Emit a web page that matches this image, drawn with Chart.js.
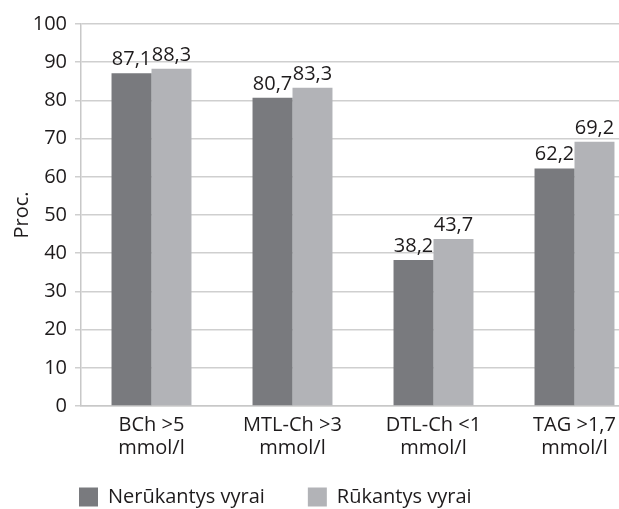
<!DOCTYPE html>
<html>
<head>
<meta charset="utf-8">
<script src="https://cdn.jsdelivr.net/npm/chart.js@4/dist/chart.umd.min.js"></script>
<style>
  html, body { margin: 0; padding: 0; background: #fff; overflow: hidden; }
  #wrap { position: absolute; left: 0; top: 0; }
</style>
</head>
<body>
<div id="wrap"><canvas id="chart" width="655" height="541"></canvas></div>
<script>
// Duomenys
const kategorijos = [
  ['BCh >5', 'mmol/l'],
  ['MTL-Ch >3', 'mmol/l'],
  ['DTL-Ch <1', 'mmol/l'],
  ['TAG >1,7', 'mmol/l']
];
const nerukantys = [87.1, 80.7, 38.2, 62.2];
const rukantys = [88.3, 83.3, 43.7, 69.2];
const serijos = ['Nerūkantys vyrai', 'Rūkantys vyrai'];
const yTicks = [0, 10, 20, 30, 40, 50, 60, 70, 80, 90, 100];

const FONT = '"Open Sans", "DejaVu Sans", sans-serif';
const TXT = '#1e1b1c';

// reikšmės virš stulpelių
const reiksmes = {
  id: 'reiksmes',
  afterDatasetsDraw(chart) {
    const ctx = chart.ctx;
    ctx.save();
    ctx.font = '20px ' + FONT;
    ctx.fillStyle = TXT;
    ctx.textAlign = 'center';
    ctx.textBaseline = 'alphabetic';
    chart.data.datasets.forEach((ds, i) => {
      chart.getDatasetMeta(i).data.forEach((bar, j) => {
        ctx.fillText(ds.data[j].toFixed(1).replace('.', ','), bar.x, bar.y - 8);
      });
    });
    ctx.restore();
  }
};

// legenda kairiau ir aukščiau, kaip originale
const legendosPoslinkis = {
  id: 'legendosPoslinkis',
  afterLayout(chart) {
    const lg = chart.legend;
    lg.left += 36; lg.right += 36;
    lg.top -= 24; lg.bottom -= 24;
  }
};

new Chart(document.getElementById('chart'), {
  type: 'bar',
  data: {
    labels: kategorijos,
    datasets: [
      { label: serijos[0], data: nerukantys, backgroundColor: '#797a7e', borderWidth: 0 },
      { label: serijos[1], data: rukantys, backgroundColor: '#b2b3b7', borderWidth: 0 }
    ]
  },
  options: {
    responsive: false,
    animation: false,
    events: [],
    layout: { padding: { top: 24, right: 10, left: 0, bottom: 0 } },
    datasets: { bar: { categoryPercentage: 0.567, barPercentage: 1 } },
    plugins: {
      tooltip: { enabled: false },
      legend: {
        position: 'bottom',
        align: 'start',
        labels: {
          font: { family: FONT, size: 20 },
          color: TXT,
          boxWidth: 19,
          boxHeight: 19,
          padding: 43
        }
      }
    },
    scales: {
      x: {
        grid: { display: false, drawTicks: false },
        border: { color: '#c8c8c8', width: 1.5 },
        ticks: { font: { family: FONT, size: 20, lineHeight: 1.15 }, color: TXT, padding: 8, maxRotation: 0 }
      },
      y: {
        min: 0,
        max: 100,
        afterBuildTicks(scale) { scale.ticks = yTicks.map(v => ({ value: v })); },
        grid: { color: '#cfcfcf', lineWidth: 1.5, tickLength: 6 },
        border: { color: '#c8c8c8', width: 1.5 },
        ticks: { font: { family: FONT, size: 20 }, color: TXT, padding: 8 },
        title: { display: true, text: 'Proc.', font: { family: FONT, size: 20 }, color: TXT, padding: { top: 10, bottom: 0 } },
        afterFit(scale) { scale.width = 81; }
      }
    }
  },
  plugins: [reiksmes, legendosPoslinkis]
});
</script>
</body>
</html>
